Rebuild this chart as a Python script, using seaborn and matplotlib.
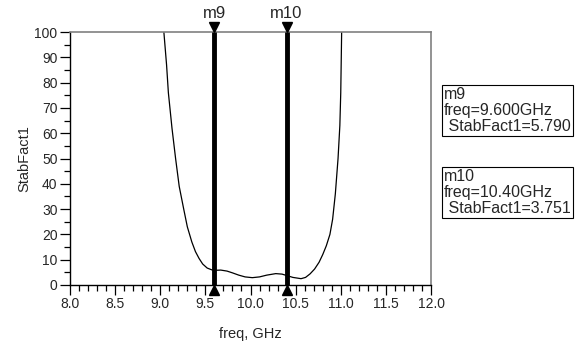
import numpy as np
import pandas as pd
import matplotlib
matplotlib.use('Agg')
import matplotlib.pyplot as plt
import matplotlib.transforms as mtransforms
from matplotlib.ticker import MultipleLocator, FormatStrFormatter
import seaborn as sns

sns.set_style("white")
plt.rcParams['font.family'] = ['Liberation Sans', 'DejaVu Sans']

# values
freq = [9.04, 9.07, 9.09, 9.13, 9.17, 9.21, 9.26, 9.30, 9.35, 9.39, 9.43, 9.47,
        9.52, 9.57, 9.60, 9.67, 9.74, 9.80, 9.87, 9.94, 10.02, 10.10, 10.18,
        10.28, 10.35, 10.40, 10.47, 10.56, 10.61, 10.66, 10.71, 10.76, 10.80,
        10.84, 10.88, 10.91, 10.94, 10.97, 10.99, 11.00, 11.01]
stab = [100, 87, 76, 62, 50, 39, 30, 23, 17, 13.2, 10.5, 8.3,
        6.7, 6.0, 5.79, 5.9, 5.5, 4.8, 3.9, 3.2, 2.9, 3.2, 3.9,
        4.5, 4.3, 3.751, 3.0, 2.5, 3.0, 4.4, 6.3, 9.0, 12.0,
        15.5, 20.0, 26.0, 36.0, 50.0, 63.0, 76.0, 100]

mk_names = ["m9", "m10"]
mk_freq = [9.6, 10.4]
mk_val = [5.790, 3.751]
mk_freq_txt = ["9.600GHz", "10.40GHz"]

df = pd.DataFrame({"freq": freq, "StabFact1": stab})

fig = plt.figure(figsize=(5.76, 3.44), dpi=100)
ax = fig.add_axes([70/576, 59/344, 361/576, 253/344])

sns.lineplot(data=df, x="freq", y="StabFact1", ax=ax, color="black",
             linewidth=0.9, sort=False)

ax.set_xlim(8.0, 12.0)
ax.set_ylim(0, 100)
ax.xaxis.set_major_locator(MultipleLocator(0.5))
ax.xaxis.set_minor_locator(MultipleLocator(0.1))
ax.xaxis.set_major_formatter(FormatStrFormatter('%.1f'))
ax.yaxis.set_major_locator(MultipleLocator(10))
ax.yaxis.set_minor_locator(MultipleLocator(5))

ax.tick_params(axis='both', which='major', direction='out', length=7, width=0.9,
               labelsize=10, pad=2, color='black')
ax.tick_params(axis='both', which='minor', direction='out', length=4, width=0.9,
               color='black')
ax.tick_params(axis='x', which='both', bottom=True, top=False)
ax.tick_params(axis='y', which='both', left=True, right=False)

for s in ['left', 'bottom']:
    ax.spines[s].set_color('black')
    ax.spines[s].set_linewidth(1.0)
for s in ['top', 'right']:
    ax.spines[s].set_color('#808080')
    ax.spines[s].set_linewidth(1.2)

ax.set_xlabel("freq, GHz", fontsize=10.5, labelpad=11)
ax.set_ylabel("StabFact1", fontsize=10.5, labelpad=2)

# markers
ax.vlines(mk_freq, 0, 100, colors='black', linewidth=3.5, zorder=3)
top_tr = mtransforms.offset_copy(ax.transData, fig=fig, y=4.5, units='dots')
bot_tr = mtransforms.offset_copy(ax.transData, fig=fig, y=-4.5, units='dots')
for f, name in zip(mk_freq, mk_names):
    ax.plot(f, 100, marker='v', color='black', markersize=7, transform=top_tr,
            clip_on=False, zorder=4)
    ax.plot(f, 0, marker='^', color='black', markersize=7, transform=bot_tr,
            clip_on=False, zorder=4)
    ax.annotate(name, (f, 100), xytext=(0, 18), textcoords='offset pixels',
                ha='center', va='center', fontsize=12, annotation_clip=False)

# readout boxes
box_tops = [87, 169]
for name, ftxt, v, top in zip(mk_names, mk_freq_txt, mk_val, box_tops):
    txt = f"{name}\nfreq={ftxt}\n StabFact1={v:.3f}"
    fig.text(444/576, 1 - top/344, txt, ha='left', va='top', fontsize=11.5,
             linespacing=1.1,
             bbox=dict(boxstyle='square,pad=0.12', fc='white', ec='black', lw=0.8))

fig.savefig("out.png", dpi=100)
